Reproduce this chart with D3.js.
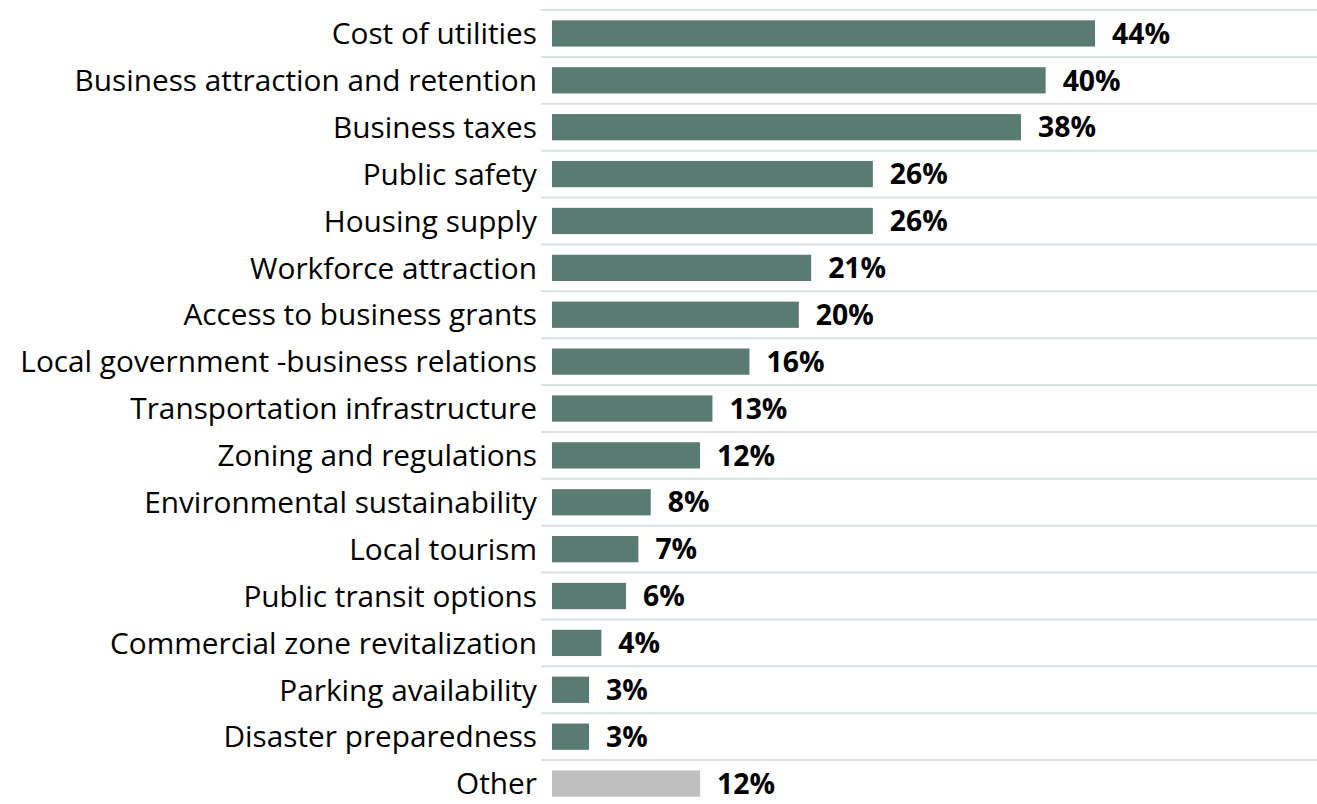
<!DOCTYPE html>
<html><head><meta charset="utf-8">
<script src="https://cdn.jsdelivr.net/npm/d3@7"></script>
<style>body{margin:0;background:#fff;} svg{display:block;}</style>
</head><body>
<svg id="chart" width="1317" height="804"></svg>
<script>
const categories = ["Cost of utilities","Business attraction and retention","Business taxes","Public safety","Housing supply","Workforce attraction","Access to business grants","Local government -business relations","Transportation infrastructure","Zoning and regulations","Environmental sustainability","Local tourism","Public transit options","Commercial zone revitalization","Parking availability","Disaster preparedness","Other"];
const values = [44,40,38,26,26,21,20,16,13,12,8,7,6,4,3,3,12];
const valueLabels = ["44%","40%","38%","26%","26%","21%","20%","16%","13%","12%","8%","7%","6%","4%","3%","3%","12%"];

const svg = d3.select("#chart");
const fontFam = "'Open Sans', 'Noto Sans', sans-serif";
const x = d3.scaleLinear().domain([0, 44]).range([552, 1095]);
const y = d3.scaleBand().domain(categories).range([10, 807]).paddingInner(0.44).paddingOuter(0.22);
const step = y.step();

// gridlines at band boundaries
const bounds = d3.range(0, categories.length);
svg.append("g").selectAll("line").data(bounds).join("line")
  .attr("x1", 541).attr("x2", 1317)
  .attr("y1", i => y.range()[0] + i * step)
  .attr("y2", i => y.range()[0] + i * step)
  .attr("stroke", "#D9E2DF").attr("stroke-width", 2);

const data = categories.map((c, i) => ({c, v: values[i], l: valueLabels[i]}));

svg.append("g").selectAll("rect").data(data).join("rect")
  .attr("x", x(0)).attr("y", d => y(d.c))
  .attr("width", d => x(d.v) - x(0)).attr("height", y.bandwidth())
  .attr("fill", d => d.c === "Other" ? "#BFBFBF" : "#5A7B71");

// measure to fit category label font size
const probe = svg.append("text").style("font-family", fontFam).style("font-size", "100px").text("Local government -business relations");
const catSize = 100 * 517 / probe.node().getComputedTextLength();
probe.remove();
const probe2 = svg.append("text").style("font-family", fontFam).style("font-size", "100px").style("font-weight", "bold").text("44%");
const valSize = 100 * 58 / probe2.node().getComputedTextLength();
probe2.remove();

svg.append("g").selectAll("text").data(data).join("text")
  .attr("x", 537).attr("y", d => y(d.c) + y.bandwidth() / 2)
  .attr("dy", "0.36em").attr("text-anchor", "end")
  .style("font-family", fontFam).style("font-size", catSize + "px").attr("fill", "#000")
  .text(d => d.c);

svg.append("g").selectAll("text").data(data).join("text")
  .attr("x", d => x(d.v) + 17).attr("y", d => y(d.c) + y.bandwidth() / 2)
  .attr("dy", "0.36em")
  .style("font-family", fontFam).style("font-size", valSize + "px").style("font-weight", "bold").attr("fill", "#000")
  .text(d => d.l);
</script>
</body></html>
